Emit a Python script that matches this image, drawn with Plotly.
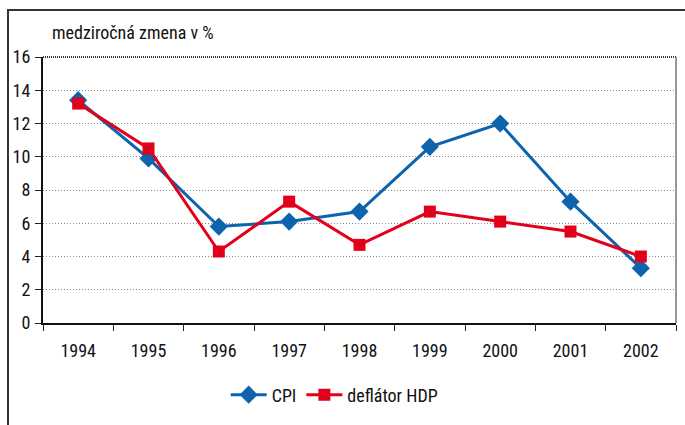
import plotly.graph_objects as go

years = ["1994", "1995", "1996", "1997", "1998", "1999", "2000", "2001", "2002"]
cpi = [13.4, 9.9, 5.8, 6.1, 6.7, 10.6, 12.0, 7.3, 3.3]
deflator = [13.2, 10.5, 4.3, 7.3, 4.7, 6.7, 6.1, 5.5, 4.0]
y_title = "medziročná zmena v %"

FONT = "Liberation Sans Narrow, Roboto Condensed, Arial Narrow, Liberation Sans, sans-serif"
BLUE = "#0e63ad"
RED = "#e2001a"

fig = go.Figure()
fig.add_trace(go.Scatter(
    x=years, y=cpi, name="CPI", mode="lines+markers",
    line=dict(color=BLUE, width=3),
    marker=dict(symbol="diamond", size=14, color=BLUE),
))
fig.add_trace(go.Scatter(
    x=years, y=deflator, name="deflátor HDP", mode="lines+markers",
    line=dict(color=RED, width=3),
    marker=dict(symbol="square", size=12, color=RED),
))

W, H = 685, 425
L, R, T, B = 43, 676, 57, 323
pw, ph = R - L, B - T

fig.update_layout(
    template="none",
    width=W, height=H,
    margin=dict(l=L, r=W - R, t=T, b=H - B, pad=0, autoexpand=False),
    paper_bgcolor="white", plot_bgcolor="white",
    font=dict(family=FONT, size=18, color="#111"),
    showlegend=True,
    legend=dict(orientation="h", x=0.46, xanchor="center", y=(B - 395) / ph,
                yanchor="middle", font=dict(size=18), itemwidth=36,
                bgcolor="rgba(0,0,0,0)"),
    xaxis=dict(type="category", range=[-0.5, 8.5], tickson="boundaries",
               ticks="outside", ticklen=6, tickcolor="#222", tickwidth=1,
               showline=True, linecolor="#111", linewidth=2,
               showgrid=False, zeroline=False, automargin=False,
               ticklabelstandoff=10, tickfont=dict(size=18)),
    yaxis=dict(range=[0, 16], dtick=2, tick0=0,
               ticks="outside", ticklen=6, tickcolor="#222", tickwidth=1,
               showline=True, linecolor="#111", linewidth=2,
               showgrid=True, gridcolor="#888", griddash="1px,2px", gridwidth=1,
               zeroline=False, automargin=False,
               tickfont=dict(size=18), ticklabelstandoff=1),
    annotations=[dict(text=y_title, xref="paper", yref="paper",
                      x=(50 - L) / pw, y=(B - 32) / ph, xanchor="left",
                      yanchor="middle", showarrow=False,
                      font=dict(size=18, family=FONT))],
    shapes=[
        dict(type="rect", xref="paper", yref="paper",
             x0=(8 - L) / pw, x1=(700 - L) / pw,
             y0=(B - 440) / ph, y1=(B - 10) / ph,
             line=dict(color="#333", width=2), layer="below"),
        dict(type="line", xref="paper", yref="paper", x0=0, x1=1, y0=1, y1=1,
             line=dict(color="#333", width=2, dash="1px,1px")),
        dict(type="line", xref="paper", yref="paper", x0=1, x1=1, y0=0, y1=1,
             line=dict(color="#777", width=1.5)),
    ],
)

fig.write_html("out.html", config={"displayModeBar": False},
               post_script="document.body.style.margin='0';")
